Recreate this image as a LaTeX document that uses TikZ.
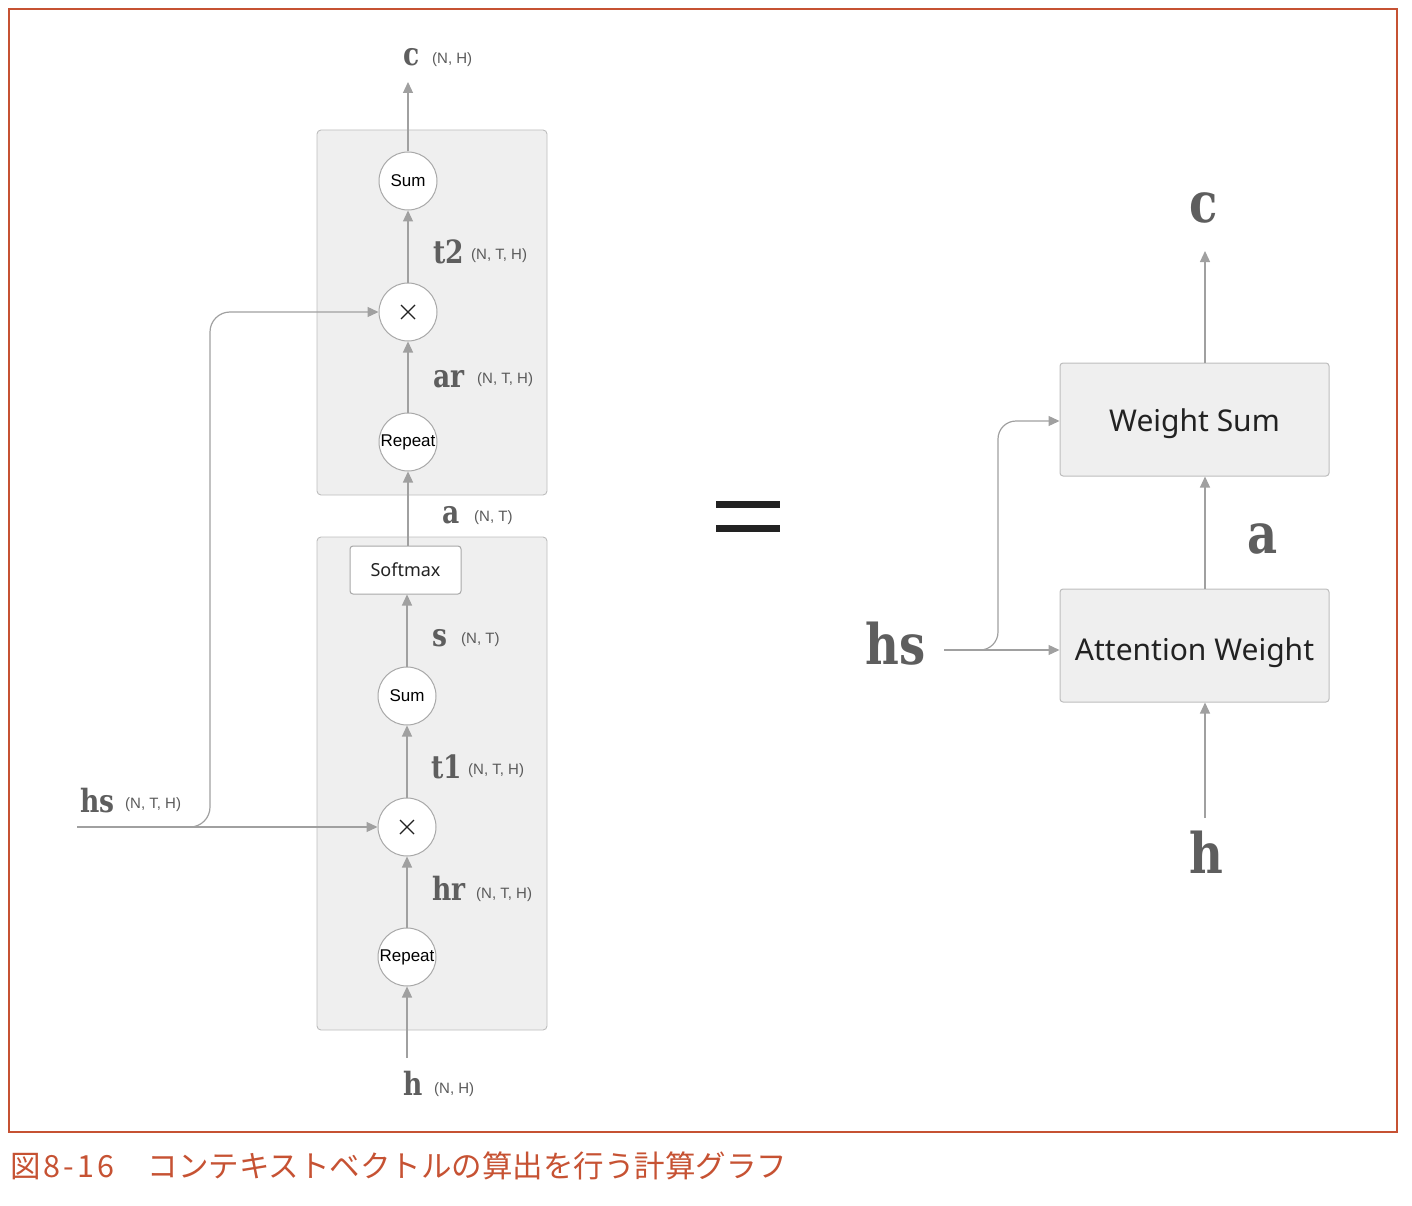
\documentclass[tikz,border=0pt]{standalone}
\usepackage{fontspec}
\usetikzlibrary{arrows.meta}
\setmainfont{Liberation Sans}
\newfontfamily\labfont{DejaVu Serif}[FakeStretch=0.83]
\newfontfamily\helv{Liberation Sans}
\newfontfamily\boxfont{Noto Sans}
\newfontfamily\cjk{Noto Sans CJK JP}
\definecolor{boxgray}{HTML}{EFEFEF}
\definecolor{boxline}{HTML}{BDBDBD}
\definecolor{circline}{HTML}{A8A8A8}
\definecolor{arrgray}{HTML}{A0A0A0}
\definecolor{labgray}{HTML}{5E5E5E}
\definecolor{dimgray}{HTML}{5A5A5A}
\definecolor{inkdark}{HTML}{222222}
\definecolor{framered}{HTML}{C65233}
\tikzset{
  grp/.style={rectangle, draw=boxline, fill=boxgray, rounded corners=4pt, line width=0.9pt, inner sep=0pt},
  opnode/.style={circle, draw=circline, fill=white, minimum size=58pt, inner sep=0pt, line width=1pt, text=black, font=\helv\fontsize{17}{19}\selectfont},
  softbox/.style={rectangle, draw=circline, fill=white, rounded corners=3pt, minimum width=111pt, minimum height=48pt, inner sep=0pt, line width=1pt, font=\boxfont\fontsize{18}{20}\selectfont, text=inkdark},
  bigbox/.style={rectangle, draw=boxline, fill=boxgray, rounded corners=3pt, minimum width=269pt, minimum height=113pt, inner sep=0pt, line width=1pt, font=\boxfont\fontsize{30}{34}\selectfont, text=inkdark, text depth=0pt},
  arr/.style={draw=arrgray, line width=1.2pt, -{Triangle[length=11pt,width=10pt]}},
  lab/.style={font=\labfont\bfseries\fontsize{32}{34}\selectfont, text=labgray, inner sep=0pt, anchor=base west},
  biglab/.style={font=\labfont\bfseries\fontsize{56}{60}\selectfont, text=labgray, inner sep=0pt, anchor=base west},
  dim/.style={font=\helv\fontsize{15}{17}\selectfont, text=dimgray, inner sep=0pt, anchor=base west},
  xmark/.style={draw=inkdark, line width=1.3pt}
}
\begin{document}
\begin{tikzpicture}[x=1pt,y=-1pt]
\useasboundingbox (0,0) rectangle (1412,1206);
% frame
\draw[framered, line width=1.5pt] (9,9) rectangle (1397,1132);
\node[inner sep=0pt, anchor=base west, text=framered, font=\cjk\fontsize{30.5}{34}\selectfont] (cap) at (10,1177) {図\kern3pt 8\kern3pt -\kern3pt 1\kern3pt 6\kern3pt　コンテキストベクトルの算出を行う計算グラフ};

% ---------- left graph ----------
\node[grp, minimum width=230pt, minimum height=365pt] (gtop) at (432,312.5) {};
\node[grp, minimum width=230pt, minimum height=493pt] (gbot) at (432,783.5) {};

\node[opnode] (sum2) at (408,181) {Sum};
\node[opnode] (mul2) at (408,312) {};
\node[opnode] (rep2) at (408,442) {Repeat};
\node[softbox] (soft) at (405.5,570) {Softmax};
\node[opnode] (sum1) at (407,696) {Sum};
\node[opnode] (mul1) at (407,827) {};
\node[opnode] (rep1) at (407,957) {Repeat};

\draw[xmark] ([shift={(-7,-7)}]mul2.center) -- ([shift={(7,7)}]mul2.center);
\draw[xmark] ([shift={(-7,7)}]mul2.center) -- ([shift={(7,-7)}]mul2.center);
\draw[xmark] ([shift={(-7,-7)}]mul1.center) -- ([shift={(7,7)}]mul1.center);
\draw[xmark] ([shift={(-7,7)}]mul1.center) -- ([shift={(7,-7)}]mul1.center);

\coordinate (hin) at (407,1058);
\coordinate (cout) at (408,82);
\coordinate (hsin) at (77,827);

\draw[arr] (hin) -- (rep1.south);
\draw[arr] (rep1.north) -- (mul1.south);
\draw[arr] (mul1.north) -- (sum1.south);
\draw[arr] (sum1.north) -- (sum1.north |- soft.south);
\draw[arr] (rep2.south |- soft.north) -- (rep2.south);
\draw[arr] (rep2.north) -- (mul2.south);
\draw[arr] (mul2.north) -- (sum2.south);
\draw[arr] (sum2.north) -- (cout);
\draw[arr] (hsin) -- (mul1.west);
\draw[arr, rounded corners=20pt] (hsin) -- (210,827) -- (210,312) -- (mul2.west);

% labels left
\node[lab] (lc) at (403,66) {c};
\node[dim] (dc) at (432,64) {(N, H)};
\node[lab] (lt2) at (433,263) {t2};
\node[dim] (dt2) at (471,259) {(N, T, H)};
\node[lab] (lar) at (433,387) {ar};
\node[dim] (dar) at (477,383) {(N, T, H)};
\node[lab] (la) at (442,523) {a};
\node[dim] (da) at (474,521) {(N, T)};
\node[lab] (ls) at (432,646) {s};
\node[dim] (ds) at (461,643) {(N, T)};
\node[lab] (lt1) at (431,778) {t1};
\node[dim] (dt1) at (468,774) {(N, T, H)};
\node[lab] (lhr) at (432,900) {hr};
\node[dim] (dhr) at (476,898) {(N, T, H)};
\node[lab] (lh) at (403,1095) {h};
\node[dim] (dh) at (434,1093) {(N, H)};
\node[lab] (lhs) at (80,812) {hs};
\node[dim] (dhs) at (125,808) {(N, T, H)};

% equals sign
\fill[inkdark] (716,500.5) rectangle (780,508);
\fill[inkdark] (716,524.5) rectangle (780,532);

% ---------- right graph ----------
\node[bigbox, text height=23pt] (ws) at (1194.5,419.5) {Weight Sum};
\node[bigbox, text height=29pt] (aw) at (1194.5,645.5) {Attention Weight};
\coordinate (rcout) at (1205,251);
\coordinate (rhin) at (1205,818);
\coordinate (rhs) at (944,650);

\draw[arr] ([xshift=10.5pt]ws.north) -- (rcout);
\draw[arr] ([xshift=10.5pt]aw.north) -- ([xshift=10.5pt]ws.south);
\draw[arr] (rhin) -- ([xshift=10.5pt]aw.south);
\draw[arr] (rhs) -- (rhs -| aw.west);
\draw[arr, rounded corners=18pt] (rhs) -- (998,650) -- (998,421) -- (998,421 -| ws.west);

\node[biglab] (rc) at (1189,223) {c};
\node[biglab] (ra) at (1247,553) {a};
\node[biglab] (rhsl) at (865,664) {hs};
\node[biglab] (rh) at (1189,873) {h};
\end{tikzpicture}
\end{document}
